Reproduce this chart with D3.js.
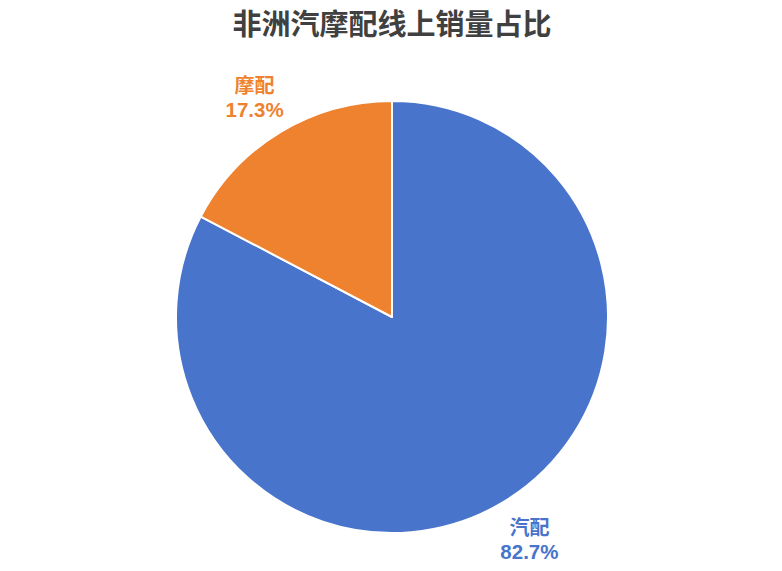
<!DOCTYPE html>
<html>
<head>
<meta charset="utf-8">
<script src="https://cdn.jsdelivr.net/npm/d3@7"></script>
<style>
  body { margin: 0; background: #fff; }
  svg { display: block; }
</style>
</head>
<body>
<svg id="chart" width="782" height="571"></svg>
<script>
// chart data
var categories = ["汽配", "摩配"];
var shares = [82.7, 17.3];
var colors = ["#4874CB", "#EE822F"];
var title = "非洲汽摩配线上销量占比";

var svg = d3.select("#chart");
var cx = 392, cy = 317, radius = 216;

svg.append("text")
  .attr("x", 392)
  .attr("y", 35)
  .attr("text-anchor", "middle")
  .attr("font-family", "'Noto Sans CJK SC', sans-serif")
  .attr("font-weight", "bold")
  .attr("font-size", 29)
  .attr("fill", "#404040")
  .text(title);

var pie = d3.pie().sort(null).value(function(d) { return d; });
var arcs = pie(shares);

var arc = d3.arc().innerRadius(0).outerRadius(radius);
var labelArc = d3.arc().innerRadius(258).outerRadius(258);

var g = svg.append("g").attr("transform", "translate(" + cx + "," + cy + ")");

g.selectAll("path")
  .data(arcs)
  .enter().append("path")
  .attr("d", arc)
  .attr("fill", function(d, i) { return colors[i]; })
  .attr("stroke", "#fff")
  .attr("stroke-width", 2)
  .attr("stroke-linejoin", "round");

// labels sit just outside the slice, nudged a bit sideways like the original
var label = g.selectAll(".label")
  .data(arcs)
  .enter().append("text")
  .attr("class", "label")
  .attr("text-anchor", "middle")
  .attr("font-weight", "bold")
  .attr("font-size", 20.5)
  .attr("fill", function(d, i) { return colors[i]; })
  .attr("transform", function(d) {
    var c = labelArc.centroid(d);
    return "translate(" + (c[0] + (c[0] < 0 ? -4 : 4)) + "," + c[1] + ")";
  });

label.append("tspan")
  .attr("x", 0)
  .attr("y", -3)
  .attr("font-family", "'Noto Sans CJK SC', sans-serif")
  .attr("font-size", 20)
  .text(function(d, i) { return categories[i]; });

label.append("tspan")
  .attr("x", 0)
  .attr("y", 21)
  .attr("font-family", "'Liberation Sans', Arial, sans-serif")
  .text(function(d, i) { return shares[i].toFixed(1) + "%"; });
</script>
</body>
</html>
